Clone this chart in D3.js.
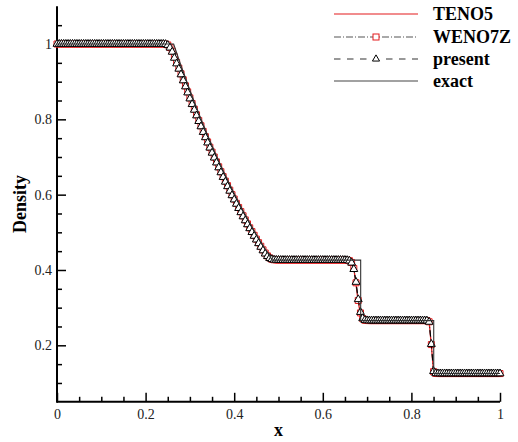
<!DOCTYPE html>
<html>
<head>
<meta charset="utf-8">
<script src="https://cdn.jsdelivr.net/npm/d3@7"></script>
<style>
  html, body { margin: 0; padding: 0; background: #fff; }
  svg { display: block; }
</style>
</head>
<body>
<svg id="chart" width="518" height="442"></svg>
<script>
// ---------------- data ----------------
// grid of the numerical solutions: 201 nodes on [0,1]
const gridX = d3.range(201).map(i => i / 200);

const presentRho = [
1,1,1,1,1,1,1,1,1,1,1,1,1,1,1,1,1,1,1,1,1,1,1,1,1,1,1,1,1,1,1,1,1,1,1,1,1,1,1,1,1,1,1,1,1,1,1,1,1,
0.9995,0.997,0.990,0.979,0.963,0.948,0.934,0.919,0.903,0.887,0.871,0.855,0.840,0.825,0.810,0.795,0.781,0.766,0.752,0.738,
0.7245,0.711,0.698,0.685,0.672,0.659,0.6465,0.634,0.622,0.610,0.598,0.5868,0.5754,0.564,0.553,0.542,0.5315,0.521,0.5105,0.5003,
0.4903,0.4804,0.4707,0.4611,0.4517,0.4432,0.4365,0.4313,0.4283,0.4270,0.4266,0.4264,
0.4263,0.4263,0.4263,0.4263,0.4263,0.4263,0.4263,0.4263,0.4263,0.4263,0.4263,0.4263,0.4263,0.4263,0.4263,0.4263,0.4263,0.4263,0.4263,0.4263,0.4263,0.4263,0.4263,0.4263,0.4263,0.4263,0.4263,0.4263,0.4263,
0.4262,0.4258,0.4245,0.419,0.402,0.368,0.322,0.288,0.2715,0.2668,0.2659,
0.2656,0.2656,0.2656,0.2656,0.2656,0.2656,0.2656,0.2656,0.2656,0.2656,0.2656,0.2656,0.2656,0.2656,0.2656,0.2656,0.2656,0.2656,0.2656,0.2656,0.2656,0.2656,0.2656,0.2656,0.2656,0.2656,
0.2654,0.262,0.203,0.131,0.1255,0.1251,
0.125,0.125,0.125,0.125,0.125,0.125,0.125,0.125,0.125,0.125,0.125,0.125,0.125,0.125,0.125,0.125,0.125,0.125,0.125,0.125,0.125,0.125,0.125,0.125,0.125,0.125,0.125,0.125
];

const teno5Rho = [
1,1,1,1,1,1,1,1,1,1,1,1,1,1,1,1,1,1,1,1,1,1,1,1,1,1,1,1,1,1,1,1,1,1,1,1,1,1,1,1,1,1,1,1,1,1,1,1,1,
0.9998,0.998,0.993,0.984,0.969,0.954,0.939,0.924,0.908,0.892,0.876,0.860,0.845,0.830,0.815,0.800,0.785,0.770,0.756,0.742,
0.728,0.715,0.702,0.689,0.676,0.663,0.650,0.638,0.626,0.614,0.602,0.5905,0.579,0.568,0.557,0.546,0.535,0.5245,0.514,0.504,
0.494,0.484,0.474,0.4645,0.455,0.446,0.438,0.432,0.4285,0.4271,0.4266,0.4264,
0.4263,0.4263,0.4263,0.4263,0.4263,0.4263,0.4263,0.4263,0.4263,0.4263,0.4263,0.4263,0.4263,0.4263,0.4263,0.4263,0.4263,0.4263,0.4263,0.4263,0.4263,0.4263,0.4263,0.4263,0.4263,0.4263,0.4263,0.4263,0.4263,
0.4262,0.4259,0.4250,0.421,0.405,0.362,0.315,0.283,0.270,0.2662,0.2657,
0.2656,0.2656,0.2656,0.2656,0.2656,0.2656,0.2656,0.2656,0.2656,0.2656,0.2656,0.2656,0.2656,0.2656,0.2656,0.2656,0.2656,0.2656,0.2656,0.2656,0.2656,0.2656,0.2656,0.2656,0.2656,0.2656,
0.2655,0.263,0.200,0.129,0.1252,0.1250,
0.125,0.125,0.125,0.125,0.125,0.125,0.125,0.125,0.125,0.125,0.125,0.125,0.125,0.125,0.125,0.125,0.125,0.125,0.125,0.125,0.125,0.125,0.125,0.125,0.125,0.125,0.125,0.125
];

const weno7zRho = [
1,1,1,1,1,1,1,1,1,1,1,1,1,1,1,1,1,1,1,1,1,1,1,1,1,1,1,1,1,1,1,1,1,1,1,1,1,1,1,1,1,1,1,1,1,1,1,1,1,
0.9997,0.9975,0.991,0.981,0.966,0.951,0.936,0.921,0.905,0.889,0.873,0.857,0.842,0.827,0.812,0.797,0.783,0.768,0.754,0.740,
0.726,0.713,0.700,0.687,0.674,0.661,0.648,0.636,0.624,0.612,0.600,0.5885,0.577,0.566,0.555,0.544,0.533,0.5225,0.512,0.502,
0.492,0.482,0.4725,0.463,0.4535,0.445,0.4375,0.432,0.4285,0.4271,0.4266,0.4264,
0.4263,0.4263,0.4263,0.4263,0.4263,0.4263,0.4263,0.4263,0.4263,0.4263,0.4263,0.4263,0.4263,0.4263,0.4263,0.4263,0.4263,0.4263,0.4263,0.4263,0.4263,0.4263,0.4263,0.4263,0.4263,0.4263,0.4263,0.4263,0.4263,
0.4262,0.4258,0.4248,0.420,0.404,0.366,0.319,0.286,0.271,0.2665,0.2658,
0.2656,0.2656,0.2656,0.2656,0.2656,0.2656,0.2656,0.2656,0.2656,0.2656,0.2656,0.2656,0.2656,0.2656,0.2656,0.2656,0.2656,0.2656,0.2656,0.2656,0.2656,0.2656,0.2656,0.2656,0.2656,0.2656,
0.2655,0.2625,0.202,0.130,0.1253,0.1250,
0.125,0.125,0.125,0.125,0.125,0.125,0.125,0.125,0.125,0.125,0.125,0.125,0.125,0.125,0.125,0.125,0.125,0.125,0.125,0.125,0.125,0.125,0.125,0.125,0.125,0.125,0.125,0.125
];

const exactX   = [0, 0.2633, 0.27, 0.28, 0.29, 0.30, 0.31, 0.32, 0.33, 0.34, 0.35, 0.36, 0.37, 0.38, 0.39, 0.40, 0.41, 0.42, 0.43, 0.44, 0.45, 0.46, 0.47, 0.48, 0.4859, 0.6855, 0.6855, 0.8504, 0.8504, 1];
const exactRho = [1, 1, 0.9768, 0.9428, 0.9096, 0.8775, 0.8462, 0.8158, 0.7863, 0.7577, 0.7299, 0.7030, 0.6768, 0.6514, 0.6268, 0.6029, 0.5798, 0.5574, 0.5357, 0.5146, 0.4943, 0.4746, 0.4555, 0.4370, 0.4263, 0.4263, 0.2656, 0.2656, 0.125, 0.125];

const xMajorTicks = [0, 0.2, 0.4, 0.6, 0.8, 1];
const xMinorTicks = [0.05,0.1,0.15,0.25,0.3,0.35,0.45,0.5,0.55,0.65,0.7,0.75,0.85,0.9,0.95];
const yMajorTicks = [0.2, 0.4, 0.6, 0.8, 1];
const yMinorTicks = [0.1,0.15,0.25,0.3,0.35,0.45,0.5,0.55,0.65,0.7,0.75,0.85,0.9,0.95,1.05];
const legendLabels = ["TENO5", "WENO7Z", "present", "exact"];

// ---------------- drawing ----------------
const svg = d3.select("#chart");
const FONT = "'Liberation Serif','Times New Roman',Times,serif";

const x = d3.scaleLinear().domain([0, 1]).range([57, 500]);
const y = d3.scaleLinear().domain([0.05, 1.1]).range([401.8, 6.35]);

const fmt = d => d === 0 ? "0" : d === 1 ? "1" : d3.format(".1f")(d);

// axes
const gx = svg.append("g").attr("transform", `translate(0,${y(0.05)})`);
gx.call(d3.axisBottom(x).tickValues(xMajorTicks).tickSize(-9).tickSizeOuter(0).tickPadding(7).tickFormat(fmt));
const gxm = svg.append("g").attr("transform", `translate(0,${y(0.05)})`);
gxm.call(d3.axisBottom(x).tickValues(xMinorTicks).tickSize(-5).tickSizeOuter(0).tickFormat(""));

const gy = svg.append("g").attr("transform", `translate(${x(0)},0)`);
gy.call(d3.axisLeft(y).tickValues(yMajorTicks).tickSize(-9).tickSizeOuter(0).tickPadding(5).tickFormat(fmt));
const gym = svg.append("g").attr("transform", `translate(${x(0)},0)`);
gym.call(d3.axisLeft(y).tickValues(yMinorTicks).tickSize(-5).tickSizeOuter(0).tickFormat(""));

[gx, gxm, gy, gym].forEach(g => {
  g.select(".domain").remove();
  g.selectAll(".tick line").attr("stroke", "#000").attr("stroke-width", 1.5);
  g.selectAll(".tick text").attr("font-family", FONT).attr("font-size", 14).attr("fill", "#222");
});

// axis lines
svg.append("line").attr("x1", x(0)).attr("x2", x(1)).attr("y1", y(0.05)).attr("y2", y(0.05))
  .attr("stroke", "#000").attr("stroke-width", 2);
svg.append("line").attr("x1", x(0)).attr("x2", x(0)).attr("y1", y(0.05) + 1).attr("y2", y(1.1))
  .attr("stroke", "#000").attr("stroke-width", 2);

// axis titles
svg.append("text").attr("x", (x(0) + x(1)) / 2).attr("y", 436)
  .attr("text-anchor", "middle").attr("font-family", FONT).attr("font-weight", "bold")
  .attr("font-size", 18).text("x");
svg.append("text").attr("transform", `translate(26,${(y(0.05) + y(1.1)) / 2}) rotate(-90)`)
  .attr("text-anchor", "middle").attr("font-family", FONT).attr("font-weight", "bold")
  .attr("font-size", 18).text("Density");

// series
const lineGrid = d3.line().x((d, i) => x(gridX[i])).y(d => y(d));
const tri = d3.symbol().type(d3.symbolTriangle).size(27);
const sq = d3.symbol().type(d3.symbolSquare).size(36);

const plot = svg.append("g");

// TENO5 red solid line
plot.append("path").datum(teno5Rho).attr("d", lineGrid)
  .attr("fill", "none").attr("stroke", "#e41a1c").attr("stroke-width", 1.3);

// WENO7Z dash-dot line with red squares
plot.append("path").datum(weno7zRho).attr("d", lineGrid)
  .attr("fill", "none").attr("stroke", "#333").attr("stroke-width", 1)
  .attr("stroke-dasharray", "7,2,1,2");
plot.append("g").selectAll("path").data(weno7zRho).join("path")
  .attr("d", sq)
  .attr("transform", (d, i) => `translate(${x(gridX[i])},${y(d)})`)
  .attr("fill", "#fff").attr("stroke", "#e41a1c").attr("stroke-width", 1);

// present dashed line with triangles
plot.append("path").datum(presentRho).attr("d", lineGrid)
  .attr("fill", "none").attr("stroke", "#000").attr("stroke-width", 1)
  .attr("stroke-dasharray", "6,6");
plot.append("g").selectAll("path").data(presentRho).join("path")
  .attr("d", tri)
  .attr("transform", (d, i) => `translate(${x(gridX[i])},${y(d)})`)
  .attr("fill", "#fff").attr("stroke", "#000").attr("stroke-width", 1);

// exact solution
const lineExact = d3.line().x((d, i) => x(exactX[i])).y(d => y(d));
plot.append("path").datum(exactRho).attr("d", lineExact)
  .attr("fill", "none").attr("stroke", "#333").attr("stroke-width", 1.1);

// legend
const legRows = [14, 37, 59, 81];
const lx1 = 334, lx2 = 418, lmid = 376, ltx = 433;
const leg = svg.append("g");
const legTri = d3.symbol().type(d3.symbolTriangle).size(22);
legendLabels.forEach((lab, k) => {
  const yy = legRows[k];
  const ln = leg.append("line").attr("x1", lx1).attr("x2", lx2).attr("y1", yy).attr("y2", yy)
    .attr("stroke-width", 1.2);
  if (k === 0) ln.attr("stroke", "#e41a1c");
  if (k === 1) {
    ln.attr("stroke", "#555").attr("stroke-dasharray", "7,2,1,2");
    leg.append("rect").attr("x", lmid - 3).attr("y", yy - 3).attr("width", 6).attr("height", 6)
      .attr("fill", "#fff").attr("stroke", "#e41a1c").attr("stroke-width", 1);
  }
  if (k === 2) {
    ln.attr("stroke", "#333").attr("stroke-dasharray", "6.5,6.5");
    leg.append("rect").attr("x", lmid - 5).attr("y", yy - 5).attr("width", 10).attr("height", 10).attr("fill", "#fff");
    leg.append("path").attr("d", legTri).attr("transform", `translate(${lmid},${yy})`)
      .attr("fill", "#fff").attr("stroke", "#000").attr("stroke-width", 1);
  }
  if (k === 3) ln.attr("stroke", "#444");
  leg.append("text").attr("x", ltx).attr("y", yy).attr("dy", "0.35em")
    .attr("font-family", FONT).attr("font-weight", "bold").attr("font-size", 18).text(lab);
});
</script>
</body>
</html>
